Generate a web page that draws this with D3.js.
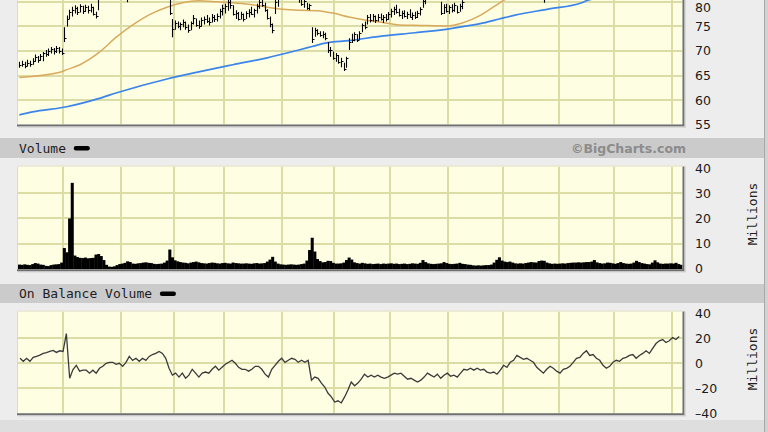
<!DOCTYPE html>
<html><head><meta charset="utf-8">
<script src="https://cdn.jsdelivr.net/npm/d3@7"></script>
<style>body{margin:0;background:#ececec;} svg{display:block}</style>
</head><body><svg id="chart" width="768" height="432"></svg>
<script>
// ---------------- DATA (daily, index 0..251) ----------------
const priceHigh = [
67.8,68.0,67.8,68.2,68.0,68.5,69.3,69.0,69.4,69.8,70.2,70.5,70.8,70.6,71.0,70.8,70.5,
74.8,77.2,78.4,79.0,79.3,79.0,79.5,79.2,79.4,79.2,79.6,79.0,78.0,81.0,82.2,
82.8,83.0,82.9,82.5,83.0,83.4,83.1,82.6,82.0,81.6,82.4,83.2,83.6,83.8,83.3,84.0,84.2,83.7,83.2,83.9,84.1,83.6,83.0,82.8,82.3,
81.0,76.5,76.2,76.0,75.8,76.4,76.0,75.4,76.0,77.3,76.6,76.2,76.8,77.0,77.3,76.8,77.5,77.3,77.6,78.6,79.4,79.6,80.6,80.8,
79.3,78.3,77.9,78.0,77.6,78.1,78.5,79.0,78.6,79.6,80.5,80.8,79.8,78.5,77.0,75.6,80.5,81.2,
82.4,82.8,82.6,82.2,82.7,82.4,82.0,81.8,81.0,80.8,79.8,79.6,
74.8,74.7,74.4,74.0,74.0,73.7,71.8,70.8,69.9,69.6,69.2,68.6,67.6,68.8,
72.6,73.5,73.8,73.4,74.0,75.6,76.0,77.3,77.5,77.5,77.2,77.5,77.6,77.3,77.5,77.9,78.6,79.0,79.4,78.6,78.2,78.3,78.0,78.5,77.8,78.0,78.2,78.9,80.6,81.0,
82.2,82.6,82.3,81.9,81.8,80.0,79.5,79.6,79.3,79.5,79.8,79.2,79.6,80.3,
84.6,85.2,85.6,85.8,85.5,86.0,86.2,86.0,85.6,85.4,86.1,86.6,86.9,86.5,86.0,86.3,86.8,87.0,86.6,86.2,
85.9,85.5,85.0,84.8,84.2,83.8,83.2,82.8,82.3,82.0,81.6,82.2,82.8,83.4,83.8,84.2,84.6,84.8,85.2,85.6,
86.0,86.4,86.6,87.0,87.2,87.5,87.9,88.1,87.8,87.2,86.8,86.4,86.0,85.8,85.5,85.9,86.4,86.8,87.2,87.4,
87.1,87.6,88.0,88.3,88.0,88.5,88.8,89.2,88.9,89.3,89.6,90.0,90.5,90.8,90.6,91.0,91.2,90.9,91.4,91.6,
91.2,91.6,91.8];
const priceLow = [
66.6,66.8,66.5,66.9,66.8,67.2,67.8,67.6,68.0,67.9,68.8,69.0,69.5,69.3,69.6,69.5,69.2,
71.8,75.0,76.5,77.0,77.6,77.3,77.8,77.5,77.9,77.6,77.8,77.2,76.6,78.3,80.6,
81.0,81.5,81.2,81.0,81.3,81.8,81.5,81.0,80.6,79.9,80.8,81.5,82.0,82.2,81.8,82.3,82.6,82.0,81.8,82.2,82.5,82.0,81.5,81.2,80.7,
77.3,72.8,74.3,74.6,74.2,74.8,74.3,73.7,74.2,75.4,74.9,74.5,75.0,75.4,75.7,75.2,75.8,75.9,76.0,76.6,77.2,77.6,78.2,78.6,
77.2,76.5,76.2,76.4,76.0,76.5,76.8,77.3,76.8,77.6,78.6,79.0,78.0,76.4,74.8,73.6,77.5,79.0,
80.7,81.2,81.0,80.8,81.1,80.9,80.6,79.8,79.2,78.8,78.4,78.3,
71.6,72.9,73.2,72.9,72.6,72.2,69.6,68.8,68.2,67.8,67.4,66.7,65.9,66.6,
70.2,71.6,72.0,71.8,72.3,73.8,74.4,75.4,75.8,76.0,75.7,76.0,76.2,75.7,76.0,76.3,76.8,77.3,77.6,77.0,76.5,76.8,76.5,76.8,76.3,76.5,76.7,77.2,78.8,79.5,
80.7,81.0,80.8,80.6,80.5,77.3,77.5,77.8,77.5,77.8,78.0,77.6,78.0,78.5,
81.5,83.6,84.0,84.3,84.1,84.5,84.8,84.6,84.2,84.0,84.5,85.0,85.4,85.0,84.6,84.9,85.2,85.6,85.2,84.8,
84.5,84.0,83.6,83.2,82.8,82.3,81.8,81.2,80.8,80.6,79.8,80.7,81.2,81.8,82.3,82.6,83.0,83.3,83.6,84.0,
84.4,84.8,85.0,85.3,85.6,85.9,86.2,86.5,86.2,85.6,85.2,84.8,84.5,84.2,84.0,84.3,84.9,85.3,85.6,85.9,
85.6,86.0,86.4,86.8,86.5,86.9,87.2,87.6,87.3,87.7,88.0,88.4,88.8,89.2,89.0,89.3,89.6,89.4,89.8,90.0,
89.7,90.0,90.3];
const priceClose = [
67.2,67.4,66.9,67.6,67.3,67.9,68.8,68.1,68.9,69.5,69.3,70.0,70.3,69.9,70.6,70.0,69.6,
72.6,76.6,77.9,78.3,78.8,78.0,79.1,78.2,78.9,78.4,79.0,77.6,77.1,80.6,81.6,
82.2,82.5,81.8,82.0,82.6,82.9,82.0,81.4,81.0,81.2,82.0,82.8,83.1,82.6,83.0,83.5,83.2,82.5,82.9,83.4,83.0,82.4,82.0,81.6,81.0,
77.8,74.5,75.6,75.0,75.4,75.9,74.8,74.2,75.7,76.8,75.3,75.0,76.2,76.6,76.0,75.8,77.0,76.4,77.2,78.2,78.8,79.2,80.0,79.4,
77.6,77.8,76.6,77.5,76.4,77.7,78.0,77.6,78.3,79.2,80.0,79.4,78.3,76.8,75.4,74.2,80.0,80.8,
82.0,82.4,81.5,81.9,82.3,81.3,81.0,80.7,79.6,80.2,78.8,79.3,
72.4,74.2,73.6,73.2,73.5,72.6,70.2,70.1,68.6,69.2,67.8,68.0,66.4,68.5,
71.8,72.3,73.4,72.2,73.7,75.2,74.9,76.9,76.3,77.1,76.2,77.0,76.6,76.9,76.4,77.5,78.2,78.5,78.0,77.4,77.8,77.2,77.6,77.0,77.4,76.9,77.8,78.6,80.2,80.7,
81.8,82.1,81.2,81.4,80.9,77.8,79.0,78.2,78.9,78.3,79.4,78.0,79.2,80.0,
84.2,84.8,85.1,84.9,85.2,85.6,85.4,85.0,84.6,85.1,85.8,86.2,86.0,85.3,85.5,85.9,86.4,86.1,85.6,85.3,
84.9,84.4,84.2,83.6,83.1,82.7,82.2,81.6,81.3,81.5,81.2,81.9,82.5,83.0,83.4,83.8,84.1,84.5,84.9,85.3,
85.7,86.0,86.3,86.6,86.8,87.2,87.6,87.9,86.7,86.0,85.6,85.3,84.9,84.6,84.4,85.4,86.0,86.4,86.9,87.0,
86.6,87.3,87.6,88.0,87.2,88.2,88.4,88.9,88.0,89.0,89.3,89.6,90.2,90.4,89.6,90.6,90.8,90.0,91.0,91.2,
90.4,91.3,91.5];

// 50-day and 200-day moving averages (day index, value)
const ma50Day = [0,15,18,23,30,37,43,49,56,62,68,75,81,87,94,100,106,113,119,125,131,138,144,152,162,168,175,180,184,200,225,251];
const ma50Val = [64.6,65.6,66.2,67.2,69.6,72.9,75.3,77.3,78.9,79.8,80.2,80.0,79.8,79.5,78.9,78.5,78.3,78.2,77.7,76.9,76.3,75.8,75.3,75.2,75.1,75.7,77.3,79.0,80.4,83.0,85.3,87.5];
const ma200Day = [0,5,18,30,37,56,68,81,94,106,111,116,125,138,150,163,176,182,188,201,213,216,251];
const ma200Val = [57.0,57.6,58.65,60.3,61.5,64.3,65.75,67.2,68.6,70.2,70.9,71.6,72.1,73.05,73.7,74.5,75.7,76.5,77.3,78.55,79.75,80.4,82.3];

// Volume, millions
const volume = [
1.6,1.5,1.7,1.5,1.4,1.8,2.2,2.0,1.6,1.5, 1.1,1.0,1.4,1.6,1.7,1.8,2.4,8.2,6.5,20.0,
34.2,5.2,4.6,4.3,4.2,4.4,4.1,4.2,4.3,5.6, 5.8,5.0,3.4,1.5,0.8,0.7,0.9,1.4,1.8,2.0,
2.3,2.9,2.6,2.0,1.9,2.1,2.2,2.4,2.5,2.3, 2.2,1.9,1.8,1.9,2.0,2.4,3.2,7.6,4.5,3.3,
2.9,2.6,2.4,2.3,2.1,2.4,2.6,2.8,2.5,2.2, 2.1,2.0,2.2,2.4,2.3,2.1,2.0,2.2,2.3,2.1,
2.0,2.4,2.2,2.1,2.0,2.0,2.1,2.0,1.9,2.1, 2.2,2.0,2.1,2.2,2.8,3.6,4.7,2.8,2.0,1.7,
1.6,1.5,1.6,1.7,1.6,1.5,1.6,1.8,2.0,3.2, 7.4,12.3,6.8,3.8,3.0,2.5,2.6,3.1,3.0,2.3,
2.0,2.0,2.1,2.4,3.4,4.4,3.6,2.5,2.2,2.0, 2.3,2.1,1.9,2.0,1.8,1.9,2.0,1.8,2.0,1.9,
2.0,2.1,1.9,2.0,1.8,1.9,2.0,1.8,1.9,2.1, 2.0,1.9,2.3,3.4,2.6,2.1,1.9,1.8,1.9,2.0,
2.1,2.6,2.2,1.9,1.8,1.9,2.0,2.3,1.9,1.8, 1.6,1.5,1.3,1.2,1.3,1.2,1.3,1.4,1.4,1.6,
2.4,3.5,4.5,3.2,2.8,2.6,2.8,2.4,2.1,2.0, 2.1,2.0,2.2,2.4,2.6,2.5,2.4,3.0,3.2,3.1,
2.4,2.1,1.9,2.0,1.9,2.0,2.1,2.0,2.2,2.3, 2.4,2.4,2.5,2.4,2.5,2.6,2.6,2.8,3.4,2.5,
2.2,2.0,2.1,2.4,2.3,2.1,1.9,2.2,2.6,2.2, 2.0,1.9,2.0,2.4,3.1,2.6,2.2,2.0,1.8,1.7,
2.4,3.3,2.5,2.0,1.9,2.0,2.0,2.1,2.0,2.3, 1.8,1.5];

// On Balance Volume, millions (evenly spaced samples over the period)
const obv = [
4,1.6,4,1.6,4.7,5.5,6.5,7.9,8.5,9.5, 10.3,8.7,10,9.5,23.8,-12,-5,-1.6,-6.3,-5.5,
-5.5,-7.9,-5.5,-7.9,-4,-2.4,0,0.8,0.8,-0.8, 0,-2.4,0.8,5.5,2.4,4,1.6,4,2.4,5.5,
7,8,9.5,7.9,4,-4,-9.5,-7.9,-11,-7.9, -11.9,-9.5,-4.8,-7.9,-11,-7.9,-7,-7.9,-4.8,-2.4,
-5.5,-3.2,-0.8,0.8,2.4,0,-3.2,-4.8,-4.8,-6.3, -4.8,-2.4,-2.4,-4.8,-8.7,-11,-4.8,-1.6,1.6,4,
0.8,2.4,4,3.2,0.8,2.4,0.8,2.4,-13.5,-11, -12,-15.8,-19,-24,-26.9,-31,-30,-31.7,-26.9,-21.4,
-15,-18,-15.8,-12.7,-8.7,-11,-9.5,-11,-9.5,-11,
-12,-11,-9.5,-7.9,-8.7,-7.9,-10.3,-12.7,-12,-13.5, -15,-13.5,-11,-7.9,-9.5,-11,-8.7,-12,-9.5,-7.9,
-10.3,-9.5,-11,-7.9,-4.8,-5.5,-4,-5.5,-4,-5.5, -4.8,-7,-7.9,-7,-8.7,-5.5,-1.6,-3.2,0.8,2.4,
6.3,4.7,3.2,4,2.4,0.8,-3.2,-5.5,-7.9,-4.8, -2.4,-4,-6.3,-7.9,-4.8,-4,-2.4,0.8,4,4.7,
7.9,10,6.3,7,4,2.4,-1.6,-4,-2.4,0.8, 2.4,1.6,4,4.7,6.3,7,4,6.3,7.9,10,
7.9,11.9,15.8,18,19,16.6,18,20.6,19,21.4];

const priceTicks = [55, 60, 65, 70, 75, 80];
const volumeTicks = [0, 10, 20, 30, 40];
const obvTicks = [-40, -20, 0, 20, 40];
const monthStartDays = [17, 39, 59, 78, 100, 120, 141, 163, 184, 205, 226, 248];

// ---------------- DRAWING ----------------
const svg = d3.select('#chart');
const W = 768, H = 432;
const L = 18, R = 682.5;
const N = priceClose.length;
const x = d3.scaleLinear().domain([-0.5, N - 0.5]).range([L, R]);
const step = x(1) - x(0);

const panels = [
  {key: 'price', top: -150, bottom: 124.5, border: 125.5,
   y: d3.scaleLinear().domain([55, 80]).range([124.7, 1.8]),
   ticks: priceTicks, grid: [60, 65, 70, 75, 80, 85, 90, 95]},
  {key: 'volume', top: 166.5, bottom: 269.3, border: 270.3,
   y: d3.scaleLinear().domain([0, 40]).range([268.6, 168.3]),
   ticks: volumeTicks, grid: [10, 20, 30]},
  {key: 'obv', top: 311.5, bottom: 413.3, border: 414.3,
   y: d3.scaleLinear().domain([-40, 40]).range([413.3, 313.3]),
   ticks: obvTicks, grid: [-20, 0, 20]}
];

svg.append('rect').attr('width', W).attr('height', H).attr('fill', '#ededed');
svg.append('rect').attr('x', 0).attr('y', 420).attr('width', W).attr('height', 12).attr('fill', '#dedede');
svg.append('rect').attr('x', 764).attr('y', 0).attr('width', 4).attr('height', H).attr('fill', '#d2d2d2');
svg.append('line').attr('x1', 764.5).attr('x2', 764.5).attr('y1', 0).attr('y2', H).attr('stroke', '#a8a8a8');

const headers = [{y: 138, h: 20, base: 152.5, label: 'Volume '}, {y: 284, h: 19, base: 298, label: 'On Balance Volume '}];
headers.forEach(hd => {
  svg.append('rect').attr('x', 0).attr('y', hd.y).attr('width', 764).attr('height', hd.h).attr('fill', '#cbcbcb');
  const t = svg.append('text').attr('x', 19).attr('y', hd.base)
    .attr('font-family', '"DejaVu Sans Mono", monospace').attr('font-size', 13)
    .attr('fill', '#1e1e1e').attr('xml:space', 'preserve').style('white-space', 'pre').text(hd.label);
  const w = t.node().getComputedTextLength();
  svg.append('rect').attr('x', 19 + w).attr('y', hd.base - 6.5).attr('width', 16).attr('height', 4.5)
    .attr('rx', 2).attr('fill', '#000');
});
svg.append('text').attr('x', 686).attr('y', 152.5).attr('text-anchor', 'end')
  .attr('font-family', '"DejaVu Sans", Verdana, sans-serif').attr('font-weight', 'bold').attr('font-size', 12.5)
  .attr('fill', '#8c8c8c').text('\u00A9BigCharts.com');

const defs = svg.append('defs');
const fmt = d => d < 0 ? '\u2013' + Math.abs(d) : String(d);

panels.forEach(p => {
  const g = svg.append('g');
  g.append('rect').attr('x', L).attr('y', p.top).attr('width', R - L).attr('height', p.bottom - p.top).attr('fill', '#fefee3');
  g.append('line').attr('x1', L - 0.5).attr('x2', L - 0.5).attr('y1', p.top).attr('y2', p.bottom).attr('stroke', '#d9d9cc');
  g.append('line').attr('x1', L).attr('x2', R).attr('y1', p.top - 0.5).attr('y2', p.top - 0.5).attr('stroke', '#e2e2c8');
  const cp = defs.append('clipPath').attr('id', 'clip-' + p.key);
  cp.append('rect').attr('x', L).attr('y', p.top).attr('width', R - L).attr('height', p.bottom - p.top);
  const inner = g.append('g').attr('clip-path', 'url(#clip-' + p.key + ')');
  inner.selectAll('line.h').data(p.grid).join('line')
    .attr('x1', L).attr('x2', R).attr('y1', d => Math.round(p.y(d))).attr('y2', d => Math.round(p.y(d)))
    .attr('stroke', '#dcdca6').attr('stroke-width', 2);
  inner.selectAll('line.v').data(monthStartDays).join('line')
    .attr('x1', d => Math.round(x(d - 0.5))).attr('x2', d => Math.round(x(d - 0.5)))
    .attr('y1', p.top).attr('y2', p.bottom)
    .attr('stroke', '#dcdca6').attr('stroke-width', 2);
  p.inner = inner;
  g.append('line').attr('x1', L - 1).attr('x2', R + 2).attr('y1', p.border).attr('y2', p.border).attr('stroke', '#707070').attr('stroke-width', 2);
  g.append('line').attr('x1', L).attr('x2', R + 3).attr('y1', p.border + 1.5).attr('y2', p.border + 1.5).attr('stroke', '#c6c6c6').attr('stroke-width', 1);
  g.append('line').attr('x1', R + 1).attr('x2', R + 1).attr('y1', p.top).attr('y2', p.border).attr('stroke', '#707070').attr('stroke-width', 2);
  g.append('line').attr('x1', R + 2.5).attr('x2', R + 2.5).attr('y1', p.top).attr('y2', p.border + 2).attr('stroke', '#c6c6c6').attr('stroke-width', 1);
  // tick labels, kept fully inside the visible page
  g.selectAll('text.t').data(p.ticks).join('text')
    .attr('x', 695).attr('y', d => Math.max(p.y(d), 7.6)).attr('dy', '0.36em')
    .attr('font-family', '"DejaVu Sans", Verdana, sans-serif').attr('font-size', 12.5).attr('fill', '#1a1a1a')
    .text(fmt);
});

[{y: 214}, {y: 359}].forEach(m => {
  svg.append('text').attr('transform', `translate(757,${m.y}) rotate(-90)`).attr('text-anchor', 'middle')
    .attr('font-family', '"DejaVu Sans Mono", monospace').attr('font-size', 13).attr('fill', '#1e1e1e').text('Millions');
});

// ---- price panel ----
const pp = panels[0], yP = pp.y;
const ma50 = ma50Day.map((d, k) => ({d, v: ma50Val[k]}));
const ma200 = ma200Day.map((d, k) => ({d, v: ma200Val[k]}));
const maLine = d3.line().x(o => x(o.d)).y(o => yP(o.v)).curve(d3.curveMonotoneX);
pp.inner.append('path').attr('d', maLine(ma50)).attr('fill', 'none').attr('stroke', '#d9aa5e').attr('stroke-width', 1.5);
pp.inner.append('path').attr('d', maLine(ma200)).attr('fill', 'none').attr('stroke', '#3a84ea').attr('stroke-width', 1.7);
pp.inner.selectAll('path.bar').data(d3.range(N)).join('path')
  .attr('d', i => {
    const cx = Math.round(x(i)) + 0.5;
    const yc = Math.round(yP(priceClose[i])) + 0.5;
    return `M${cx},${yP(priceHigh[i])}V${yP(priceLow[i])}M${cx},${yc}H${cx + 2}`;
  })
  .attr('fill', 'none').attr('stroke', '#000').attr('stroke-width', 1.1);

// ---- volume panel ----
const pv = panels[1], yV = pv.y;
pv.inner.selectAll('rect.vol').data(volume).join('rect')
  .attr('x', (v, i) => x(i) - step / 2).attr('width', step + 0.4)
  .attr('y', v => yV(v)).attr('height', v => pv.bottom - yV(v))
  .attr('fill', '#000');

// ---- OBV panel ----
const po = panels[2], yO = po.y;
const xObv = d3.scaleLinear().domain([0, obv.length - 1]).range([x(0.25), x(N - 1.75)]);
po.inner.append('path')
  .attr('d', d3.line().x((v, k) => xObv(k)).y(v => yO(v))(obv))
  .attr('fill', 'none').attr('stroke', '#3a3a3a').attr('stroke-width', 1.3);
</script>
</body></html>
